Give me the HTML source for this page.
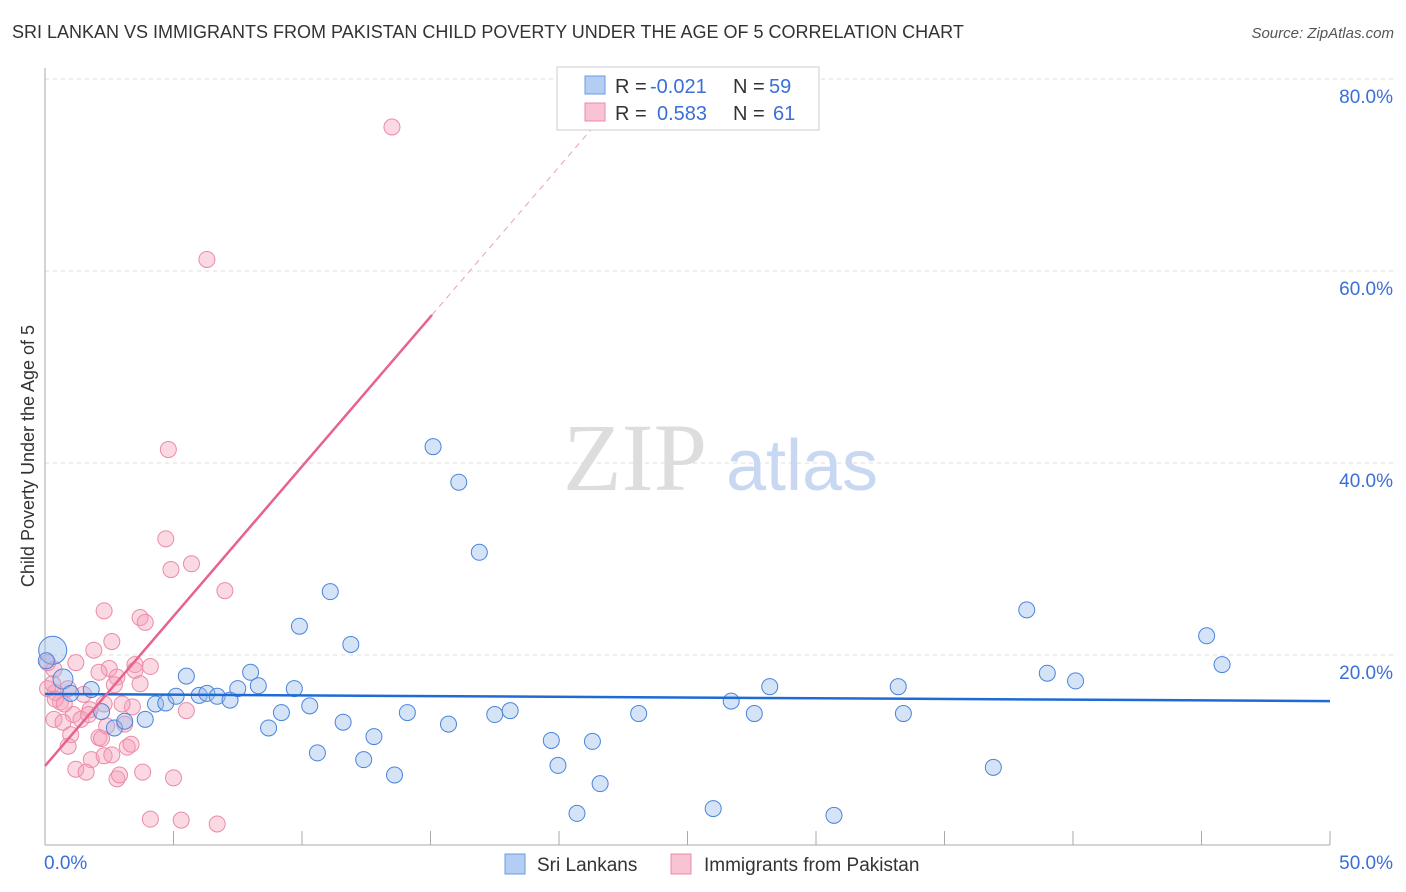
<!DOCTYPE html>
<html><head><meta charset="utf-8"><style>
body{margin:0;background:#fff;font-family:"Liberation Sans",sans-serif;}
#wrap{position:relative;width:1406px;height:892px;overflow:hidden;}
.t{position:absolute;white-space:nowrap;}
</style></head><body>
<div id="wrap">
<div class="t" style="left:12px;top:22px;font-size:18px;color:#333;">SRI LANKAN VS IMMIGRANTS FROM PAKISTAN CHILD POVERTY UNDER THE AGE OF 5 CORRELATION CHART</div>
<div class="t" style="right:12px;top:25px;font-size:15px;color:#555;font-style:italic;">Source: ZipAtlas.com</div>
<svg id="svg" width="1406" height="892" style="position:absolute;left:0;top:0"></svg>
</div>
<script>
const blueX=[0.3,0.7,1.0,1.8,2.2,2.7,3.1,3.9,4.3,4.7,5.1,5.5,6.0,6.3,6.7,7.2,7.5,8.0,8.3,8.7,9.2,9.7,9.9,10.3,10.6,11.1,11.6,11.9,12.4,12.8,13.6,14.1,15.1,15.7,16.1,16.9,17.5,18.1,19.7,19.96,20.7,21.3,21.6,23.1,26.0,26.7,27.6,28.2,30.7,33.2,33.4,36.9,38.2,39.0,40.1,45.2,45.8,0.05];
const blueY=[20.5,17.5,16.0,16.4,14.1,12.4,13.1,13.3,14.9,15.0,15.7,17.8,15.8,16.0,15.7,15.3,16.5,18.2,16.8,12.4,14.0,16.5,23.0,14.7,9.8,26.6,13.0,21.1,9.1,11.5,7.5,14.0,41.7,12.8,38.0,30.7,13.8,14.2,11.1,8.5,3.5,11.0,6.6,13.9,4.0,15.2,13.9,16.7,3.3,16.7,13.9,8.3,24.7,18.1,17.3,22.0,19.0,19.4];
const pinkX=[13.5,6.3,4.8,4.7,5.7,4.9,7.0,2.3,3.7,3.9,2.6,1.9,1.2,0.35,0.1,3.5,4.1,2.5,2.1,2.8,3.5,0.4,2.7,3.7,0.9,1.5,0.6,2.3,3.4,5.5,0.35,1.1,1.75,1.4,0.7,1.0,2.1,3.1,3.2,3.35,1.8,1.2,1.6,2.3,2.8,2.9,3.8,5.0,4.1,5.3,6.7,0.1,0.3,2.2,0.9,2.6,0.4,0.75,1.7,2.4,3.0];
const pinkY=[75.0,61.2,41.4,32.1,29.5,28.9,26.7,24.6,23.9,23.4,21.4,20.5,19.2,18.5,19.2,19.0,18.8,18.6,18.2,17.7,18.4,16.1,16.9,17.0,16.5,15.9,15.1,14.9,14.6,14.2,13.3,13.8,14.3,13.3,13.0,11.7,11.4,12.8,10.4,10.7,9.1,8.1,7.8,9.5,7.1,7.5,7.8,7.2,2.9,2.8,2.4,16.5,17.0,11.3,10.5,9.6,15.4,14.9,13.8,12.6,14.9];
const blueR=[14,10].concat(Array(56).fill(8));
const xTicks=[0,5,10,15,20,25,30,35,40,45,50];
const yTicks=[20,40,60,80];
const blueTrend=[15.94,15.2];
const pinkTrend={b:8.44,m:3.12};
const X=v=>45+v/50*1285, Y=v=>847-v*9.6;
const s=document.getElementById('svg'),NS='http://www.w3.org/2000/svg';
function mk(tag,at,name){const e=document.createElementNS(NS,tag);for(const k in at)e.setAttribute(k,at[k]);


s.appendChild(e);return e;}
yTicks.forEach(v=>{mk('line',{x1:45,x2:1393,y1:Y(v),y2:Y(v),stroke:'#ddd','stroke-dasharray':'4,4'},'gridline');
const t=mk('text',{x:1393,y:Y(v)+24,'text-anchor':'end','font-size':19,fill:'#3a6fd8'},'y-tick-label');t.textContent=v.toFixed(1)+'%';});
mk('line',{x1:45,x2:1330,y1:845,y2:845,stroke:'#aaa'},'x-axis');
mk('line',{x1:45,x2:45,y1:68,y2:845,stroke:'#aaa'},'y-axis');
xTicks.forEach(v=>mk('line',{x1:X(v),x2:X(v),y1:831,y2:845,stroke:'#aaa'},'x-tick'));
let t=mk('text',{x:44,y:869,'font-size':19,fill:'#3a6fd8'},'x-tick-label');t.textContent='0.0%';
t=mk('text',{x:1393,y:869,'text-anchor':'end','font-size':19,fill:'#3a6fd8'},'x-tick-label');t.textContent='50.0%';
t=mk('text',{x:34,y:456,'text-anchor':'middle','font-size':18,fill:'#333',transform:'rotate(-90 34 456)'},'y-axis-title');t.textContent='Child Poverty Under the Age of 5';
t=mk('text',{x:635,y:490,'text-anchor':'middle','font-size':96,fill:'#ddd','font-family':'Liberation Serif'},'watermark');t.textContent='ZIP';
t=mk('text',{x:802,y:490,'text-anchor':'middle','font-size':72,fill:'#c9d8f2'},'watermark');t.textContent='atlas';
pinkX.forEach((x,i)=>mk('circle',{cx:X(x),cy:Y(pinkY[i]),r:8,fill:'rgba(244,160,185,0.4)',stroke:'#ec8aa8','stroke-width':1},'pink-point'));
blueX.forEach((x,i)=>mk('circle',{cx:X(x),cy:Y(blueY[i]),r:blueR[i],fill:'rgba(150,185,235,0.4)',stroke:'#4a84dc','stroke-width':1},'blue-point'));
mk('line',{x1:X(0),x2:X(50),y1:Y(blueTrend[0]),y2:Y(blueTrend[1]),stroke:'#1f6bd6','stroke-width':2.5},'blue-trend-line');
mk('line',{x1:X(0),x2:X(15.06),y1:Y(pinkTrend.b),y2:Y(pinkTrend.b+pinkTrend.m*15.06),stroke:'#e8628e','stroke-width':2.5},'pink-trend-line');
mk('line',{x1:X(15.06),x2:X(21.5),y1:Y(pinkTrend.b+pinkTrend.m*15.06),y2:Y(pinkTrend.b+pinkTrend.m*21.5),stroke:'#e8a0b8','stroke-width':1,'stroke-dasharray':'6,5'},'pink-trend-extension');
mk('rect',{x:557,y:67,width:262,height:63,fill:'#fff',stroke:'#ccc'},'legend-box');
mk('rect',{x:585,y:76,width:20,height:18,fill:'#b3cdf3',stroke:'#6d9be0'},'legend-swatch-blue');
mk('rect',{x:585,y:103,width:20,height:18,fill:'#f8c3d3',stroke:'#ec8aa8'},'legend-swatch-pink');
[['R = ',615,93,'#333'],['-0.021',650,93,'#3a6fd8'],['N = ',733,93,'#333'],['59',769,93,'#3a6fd8'],
 ['R = ',615,120,'#333'],['0.583',657,120,'#3a6fd8'],['N = ',733,120,'#333'],['61',773,120,'#3a6fd8']].forEach(a=>{
 const e=mk('text',{x:a[1],y:a[2],'font-size':20,fill:a[3]},'legend-text');e.textContent=a[0];});
mk('rect',{x:505,y:854,width:20,height:20,fill:'#b3cdf3',stroke:'#6d9be0'},'bottom-legend-swatch-blue');
t=mk('text',{x:537,y:871,'font-size':19,fill:'#333'},'bottom-legend-sri-lankans');t.textContent='Sri Lankans';
mk('rect',{x:671,y:854,width:20,height:20,fill:'#f8c3d3',stroke:'#ec8aa8'},'bottom-legend-swatch-pink');
t=mk('text',{x:704,y:871,'font-size':19,fill:'#333'},'bottom-legend-pakistan');t.textContent='Immigrants from Pakistan';
</script>
</body></html>
